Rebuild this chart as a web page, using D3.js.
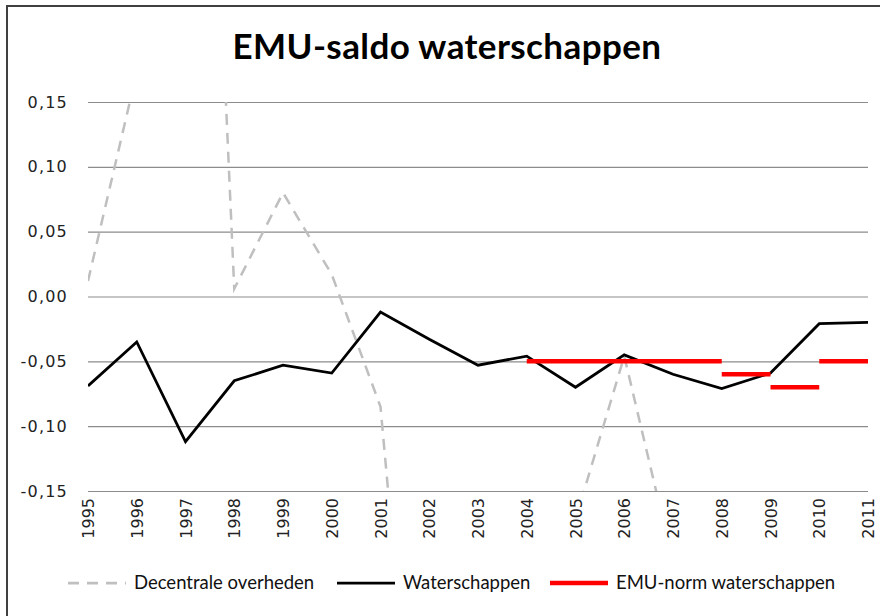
<!DOCTYPE html>
<html>
<head>
<meta charset="utf-8">
<script src="https://cdn.jsdelivr.net/npm/d3@7/dist/d3.min.js"></script>
<style>
  body { margin: 0; background: #fff; }
  svg { display: block; }
</style>
</head>
<body>
<div id="main"></div>
<script>
// jaren op de x-as
const years = ['1995', '1996', '1997', '1998', '1999', '2000', '2001', '2002', '2003',
  '2004', '2005', '2006', '2007', '2008', '2009', '2010', '2011']
// EMU-saldo waterschappen
const waterschappen = [-0.069, -0.035, -0.112, -0.065, -0.053, -0.059, -0.012, -0.033, -0.053,
  -0.046, -0.070, -0.045, -0.060, -0.071, -0.059, -0.021, -0.020]
// decentrale overheden (grotendeels buiten beeld, null = niet af te lezen)
const decentrale = [0.012, 0.173, 0.85, 0.006, 0.080, 0.017, -0.085, -0.50, null,
  null, -0.172, -0.046, -0.205, null, null, null, null]
// EMU-norm, per periode
const normFrom = ['2004', '2008', '2009', '2010']
const normTo = ['2008', '2009', '2010', '2011']
const normValue = [-0.05, -0.06, -0.07, -0.05]
const yTicks = [-0.15, -0.10, -0.05, 0, 0.05, 0.10, 0.15]
const legendLabels = ['Decentrale overheden', 'Waterschappen', 'EMU-norm waterschappen']

const W = 880, H = 616
const plot = { left: 88, right: 868, top: 102, bottom: 491 }

const nl = d3.formatLocale({ decimal: ',', thousands: '.', grouping: [3], currency: ['€', ''], minus: '-' })
const fmt = nl.format('.2f')

const svg = d3.select('#main').append('svg').attr('width', W).attr('height', H)

const x = d3.scalePoint().domain(years).range([plot.left, plot.right])
const y = d3.scaleLinear().domain([-0.15, 0.15]).range([plot.bottom, plot.top])

// rand van de grafiek
svg.append('path').attr('d', `M7,${H} V6 H${W}`)
  .attr('fill', 'none').attr('stroke', '#404040').attr('stroke-width', 2)

// titel
svg.append('text').attr('x', 447).attr('y', 59).attr('text-anchor', 'middle')
  .attr('font-family', 'Lato').attr('font-weight', 'bold').attr('font-size', 35)
  .attr('letter-spacing', 0.4)
  .attr('fill', '#000').text('EMU-saldo waterschappen')

// rasterlijnen
const grid = svg.append('g').attr('transform', `translate(${plot.left},0)`)
  .call(d3.axisLeft(y).tickValues(yTicks).tickSize(-(plot.right - plot.left)).tickFormat(''))
grid.select('.domain').remove()
grid.selectAll('line').attr('stroke', '#8c8c8c').attr('stroke-width', 1.2)

// y-as labels
const yAxis = svg.append('g').attr('transform', `translate(${plot.left},0)`)
  .call(d3.axisLeft(y).tickValues(yTicks).tickSize(0).tickPadding(20).tickFormat(fmt))
yAxis.select('.domain').remove()
yAxis.selectAll('text').attr('font-family', 'DejaVu Sans').attr('font-size', 16)
  .attr('letter-spacing', 1.2).attr('fill', '#222')

// x-as labels
const xAxis = svg.append('g').attr('transform', `translate(0,${plot.bottom})`)
  .call(d3.axisBottom(x).tickSize(0))
xAxis.select('.domain').remove()
xAxis.selectAll('text')
  .attr('transform', 'rotate(-90)')
  .attr('x', -7).attr('y', 0).attr('dy', '0.35em')
  .attr('text-anchor', 'end')
  .attr('font-family', 'DejaVu Sans').attr('font-size', 16).attr('fill', '#222')

svg.append('clipPath').attr('id', 'clip').append('rect')
  .attr('x', plot.left).attr('y', plot.top)
  .attr('width', plot.right - plot.left).attr('height', plot.bottom - plot.top)

const lines = svg.append('g').attr('clip-path', 'url(#clip)')

const line = d3.line()
  .defined(d => d[1] != null)
  .x(d => x(d[0])).y(d => y(d[1]))

lines.append('path').datum(years.map((yr, i) => [yr, decentrale[i]]))
  .attr('d', line).attr('fill', 'none')
  .attr('stroke', '#bfbfbf').attr('stroke-width', 2.5).attr('stroke-dasharray', '11,8')

lines.append('path').datum(years.map((yr, i) => [yr, waterschappen[i]]))
  .attr('d', line).attr('fill', 'none')
  .attr('stroke', '#000').attr('stroke-width', 2.75).attr('stroke-linejoin', 'miter')

svg.append('g').selectAll('line').data(normValue).enter().append('line')
  .attr('x1', (d, i) => x(normFrom[i])).attr('x2', (d, i) => x(normTo[i]))
  .attr('y1', d => y(d)).attr('y2', d => y(d))
  .attr('stroke', '#ff0000').attr('stroke-width', 4.5)

// legenda
const legendX = [68, 337, 550]
const legendStyle = [
  { stroke: '#bfbfbf', dash: '11,8' },
  { stroke: '#000', dash: null },
  { stroke: '#ff0000', dash: null }
]
const lg = svg.append('g').attr('transform', 'translate(0,583)')
legendLabels.forEach((lab, i) => {
  lg.append('line').attr('x1', legendX[i]).attr('x2', legendX[i] + 58)
    .attr('stroke', legendStyle[i].stroke).attr('stroke-width', i === 2 ? 4.5 : 2.75)
    .attr('stroke-dasharray', legendStyle[i].dash)
  lg.append('text').attr('x', legendX[i] + 66).attr('dy', '0.35em')
    .attr('font-family', 'Lato').attr('font-size', 18.5).attr('fill', '#111').text(lab)
})
</script>
</body>
</html>
